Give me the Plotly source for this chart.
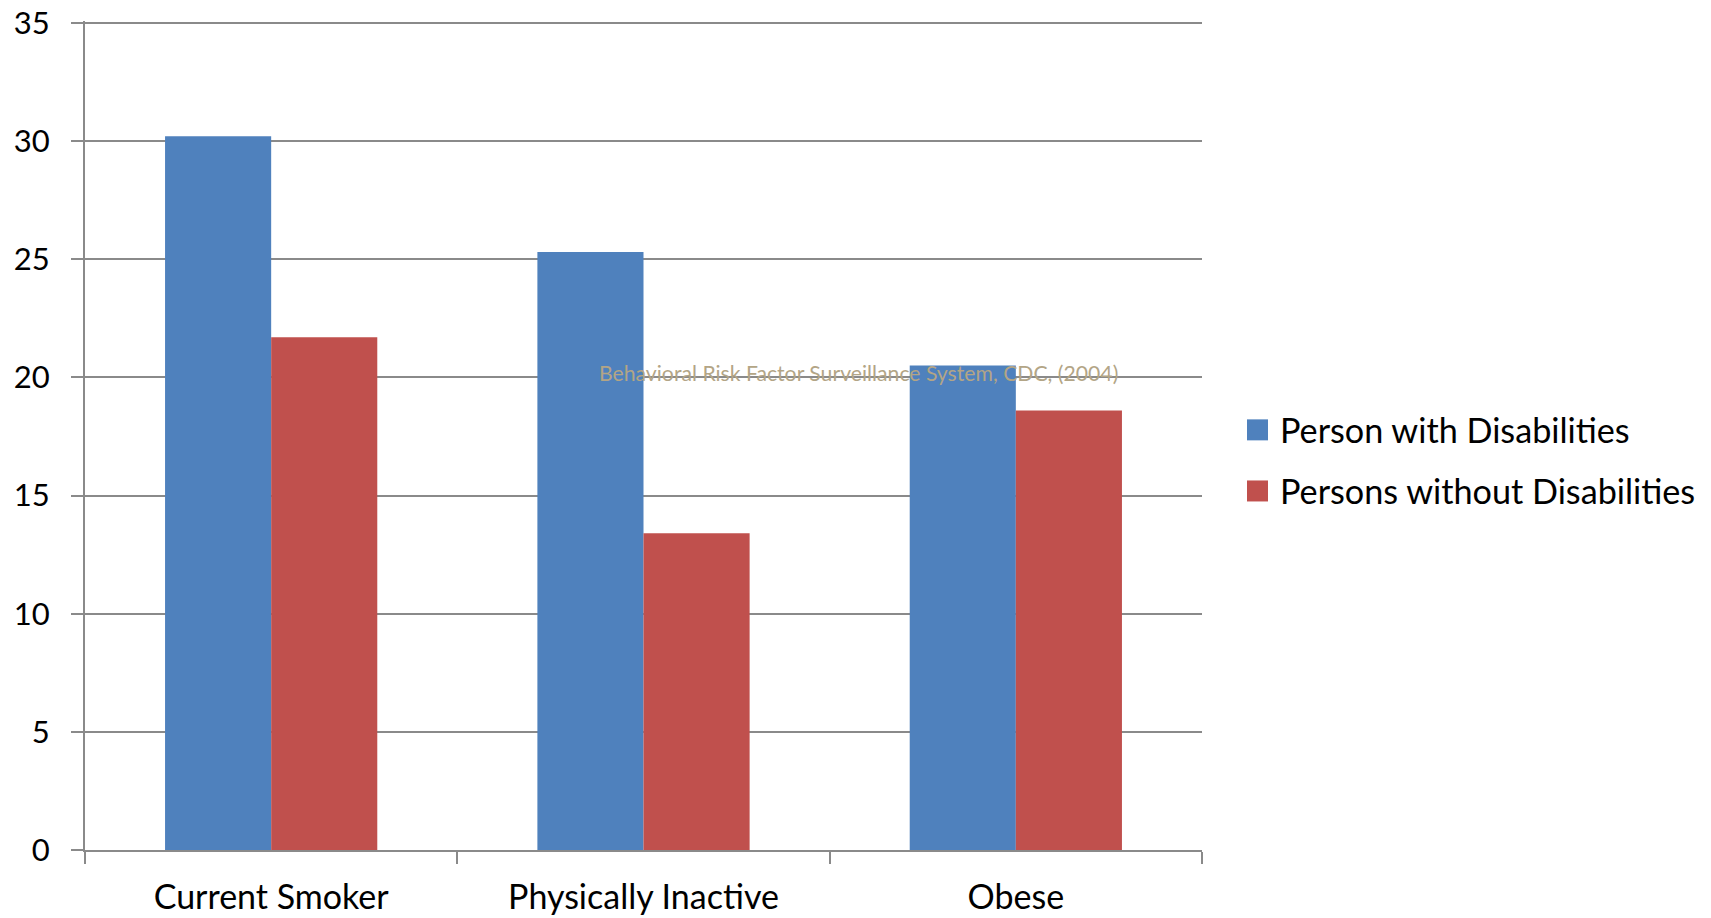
import plotly.graph_objects as go

# Health risk behaviours, percent of adults
categories = ["Current Smoker", "Physically Inactive", "Obese"]
series_names = ["Person with Disabilities", "Persons without Disabilities"]
with_disab = [30.2, 25.3, 20.5]
without_disab = [21.7, 13.4, 18.6]
series_colors = ["#4F81BD", "#C0504D"]
y_ticks = [0, 5, 10, 15, 20, 25, 30, 35]
source_note = "Behavioral Risk Factor Surveillance System, CDC, (2004)"

FONT = "Lato, Calibri, sans-serif"
GRID = "#8A8A8A"

fig = go.Figure()
for name, vals, col in zip(series_names, [with_disab, without_disab], series_colors):
    fig.add_trace(go.Bar(
        x=categories, y=vals, name=name,
        marker=dict(color=col, line=dict(width=0)),
        showlegend=False,
    ))

fig.update_layout(
    width=1711, height=918,
    margin=dict(l=85, r=509, t=21, b=68),
    paper_bgcolor="white", plot_bgcolor="white",
    barmode="group", bargap=0.43, bargroupgap=0,
    font=dict(family=FONT, size=34, color="black"),
)

# small headroom above 35 so the top gridline is kept
fig.update_yaxes(
    range=[0, 35.08], tickvals=y_ticks, ticktext=[str(v) for v in y_ticks],
    showgrid=True, gridcolor=GRID, gridwidth=2,
    showline=True, linecolor=GRID, linewidth=2,
    ticks="outside", ticklen=12, tickcolor=GRID, tickwidth=2,
    ticklabelstandoff=15, zeroline=False, automargin=False,
    tickfont=dict(family=FONT, size=31),
)
fig.update_xaxes(
    showline=True, linecolor=GRID, linewidth=2,
    ticks="outside", ticklen=12, tickcolor=GRID, tickwidth=2,
    tickson="boundaries", showgrid=False, automargin=False,
    ticklabelstandoff=16,
    tickfont=dict(family=FONT, size=34),
)

# Source note drawn across the plot area
fig.add_annotation(
    text=source_note, xref="paper", yref="y", x=(858 - 85) / 1117, y=20.2,
    showarrow=False, font=dict(family="Lato, sans-serif", size=21.2, color="#B3A586"),
    xanchor="center", yanchor="middle",
)

# Legend: coloured squares with series names
legend_y = [0.5068, 0.4331]
for name, col, ly in zip(series_names, series_colors, legend_y):
    fig.add_shape(
        type="rect", xref="paper", yref="paper",
        x0=1.0 + (1247 - 1202) / 1117, x1=1.0 + (1268 - 1202) / 1117,
        y0=ly - 10.5 / 829, y1=ly + 10.5 / 829,
        fillcolor=col, line=dict(width=0),
    )
    fig.add_annotation(
        text=name, xref="paper", yref="paper",
        x=1.0 + (1278 - 1202) / 1117, y=ly,
        xanchor="left", yanchor="middle", showarrow=False,
        font=dict(family=FONT, size=34.2, color="black"),
    )

fig.write_html("out.html")
